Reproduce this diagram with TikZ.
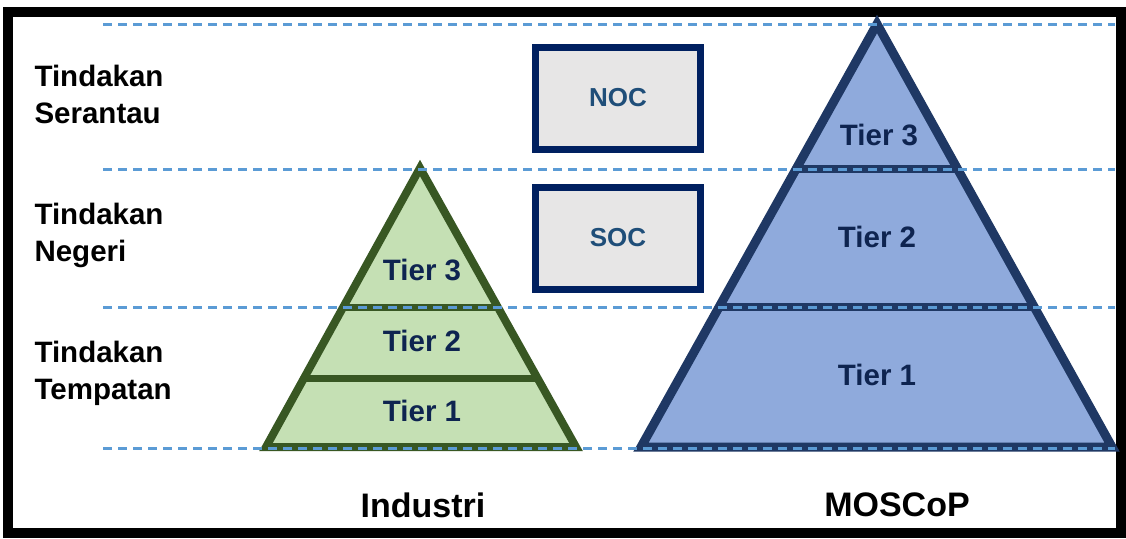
\documentclass[tikz,border=0pt]{standalone}
\usepackage{fontspec}
\setmainfont{Liberation Sans}
\usetikzlibrary{shadows}
\definecolor{guidecol}{RGB}{91,155,213}
\definecolor{leafline}{RGB}{56,87,35}
\definecolor{leaffill}{RGB}{197,224,180}
\definecolor{sealine}{RGB}{31,56,100}
\definecolor{seafill}{RGB}{143,170,220}
\definecolor{boxline}{RGB}{0,32,96}
\definecolor{boxfill}{RGB}{231,230,230}
\definecolor{boxtext}{RGB}{31,78,121}
\definecolor{tiertext}{RGB}{14,36,80}

\begin{document}
\begin{tikzpicture}[x=1pt,y=-1pt
                   ,level/.style={font=\fontsize{29.5}{37}\selectfont\bfseries,align=left,anchor=west}
                   ,tier/.style={font=\fontsize{29.5}{32}\selectfont\bfseries,text=tiertext}
                   ,centre/.style={draw=boxline,fill=boxfill,line width=7pt
                                  ,minimum width=165pt,minimum height=102pt
                                  ,font=\fontsize{26}{30}\selectfont\bfseries,text=boxtext
                                  ,drop shadow={opacity=.3}}
                   ,caption/.style={font=\fontsize{34}{40}\selectfont\bfseries}
                   ,guideline/.style={guidecol,line width=3pt,dash pattern=on 9pt off 6pt}
                   ,shade/.style={drop shadow={opacity=.3}}]
  \useasboundingbox (0,0) rectangle (1126,538);
  \draw[line width=10pt] (8,12) rectangle (1121,533);

  \coordinate (ind-top) at (420,168);
  \coordinate (ind-left) at (266,447);
  \coordinate (ind-right) at (576,447);
  \fill[leaffill,shade] (ind-top) -- (ind-left) -- (ind-right) -- cycle;
  \begin{scope}
    \clip (ind-top) -- (ind-left) -- (ind-right) -- cycle;
    \draw[leafline,line width=7pt] (200,307) -- (650,307) (200,378) -- (650,378);
  \end{scope}
  \draw[leafline,line width=8pt,line join=miter] (ind-top) -- (ind-left) -- (ind-right) -- cycle;

  \coordinate (mos-top) at (877,24);
  \coordinate (mos-left) at (641,447);
  \coordinate (mos-right) at (1112,447);
  \fill[seafill,shade] (mos-top) -- (mos-left) -- (mos-right) -- cycle;
  \begin{scope}
    \clip (mos-top) -- (mos-left) -- (mos-right) -- cycle;
    \draw[sealine,line width=8pt] (600,169) -- (1126,169) (600,307) -- (1126,307);
  \end{scope}
  \draw[sealine,line width=9pt,line join=miter] (mos-top) -- (mos-left) -- (mos-right) -- cycle;

  \node[centre] (noc) at (618,98) {NOC};
  \node[centre] (soc) at (618,238) {SOC};

  \foreach \y in {24,169,307,448}
    \draw[guideline] (103,\y) -- (1115,\y);

  \node[tier] (ind-3) at (422,270) {Tier 3};
  \node[tier] (ind-2) at (422,341) {Tier 2};
  \node[tier] (ind-1) at (422,411) {Tier 1};
  \node[tier] (mos-3) at (879,135) {Tier 3};
  \node[tier] (mos-2) at (877,237) {Tier 2};
  \node[tier] (mos-1) at (877,375) {Tier 1};

  \node[level] (serantau) at (31,94) {Tindakan\\Serantau};
  \node[level] (negeri) at (31,235) {Tindakan\\Negeri};
  \node[level] (tempatan) at (31,373) {Tindakan\\Tempatan};

  \node[caption] (industri) at (423,505) {Industri};
  \node[caption] (moscop) at (897,505) {MOSCoP};
\end{tikzpicture}
\end{document}
